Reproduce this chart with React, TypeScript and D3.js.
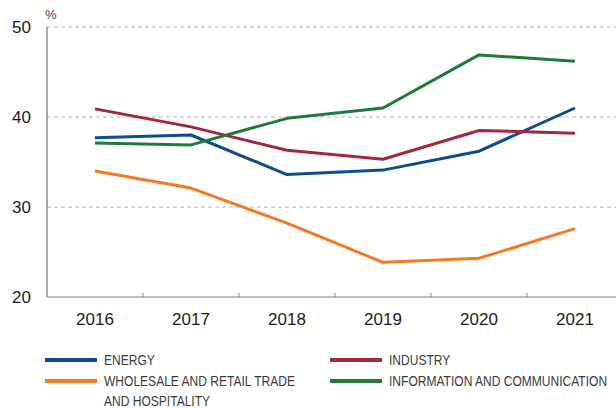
import React from "react";
import * as d3 from "d3";

const years = ["2016", "2017", "2018", "2019", "2020", "2021"];
const energy = [37.7, 38.0, 33.6, 34.1, 36.2, 41.0];
const industry = [40.9, 38.9, 36.3, 35.3, 38.5, 38.2];
const wholesale = [34.0, 32.1, 28.2, 23.85, 24.3, 27.6];
const infoComm = [37.1, 36.9, 39.85, 41.0, 46.9, 46.2];
const yTicks = [20, 30, 40, 50];

const seriesNames = [
  "ENERGY",
  "INDUSTRY",
  "WHOLESALE AND RETAIL TRADE|AND HOSPITALITY",
  "INFORMATION AND COMMUNICATION",
];
const seriesColors = ["#0f4c8c", "#a0283f", "#f47920", "#1f7a3a"];
const seriesValues = [energy, industry, wholesale, infoComm];

const W = 616;
const H = 408;
const left = 47;
const top = 27;
const bottom = 297;

export default function App() {
  const x = d3.scaleBand<string>().domain(years).range([left, left + 96 * 6]);
  const y = d3.scaleLinear().domain([20, 50]).range([bottom, top]);
  const line = d3
    .line<number>()
    .x((_, i) => (x(years[i]) as number) + x.bandwidth() / 2)
    .y((d) => y(d));

  const legendPos = [
    { lx: 45, ly: 360 },
    { lx: 330, ly: 360 },
    { lx: 45, ly: 381 },
    { lx: 330, ly: 381 },
  ];

  return (
    <svg
      width={W}
      height={H}
      style={{ position: "absolute", left: 0, top: 0, background: "#fff" }}
    >
      {yTicks.map((t) =>
        t > 20 ? (
          <line
            key={"g" + t}
            x1={left}
            x2={W}
            y1={y(t)}
            y2={y(t)}
            stroke="#b4b4b4"
            strokeWidth={1}
            strokeDasharray="4,3"
          />
        ) : null
      )}
      <line x1={left} x2={W} y1={bottom} y2={bottom} stroke="#7a7a7a" strokeWidth={1} />
      <line x1={left} x2={left} y1={top} y2={bottom} stroke="#7a7a7a" strokeWidth={1.3} />
      {years.slice(1).map((yr) => (
        <line
          key={"t" + yr}
          x1={x(yr) as number}
          x2={x(yr) as number}
          y1={bottom}
          y2={bottom - 4}
          stroke="#7a7a7a"
          strokeWidth={1}
        />
      ))}
      {yTicks.map((t) => (
        <text
          key={"yl" + t}
          x={31}
          y={y(t)}
          dy="0.36em"
          textAnchor="end"
          fontFamily="'Liberation Sans', Arial, sans-serif"
          fontSize={17}
          fill="#1a1a1a"
        >
          {t}
        </text>
      ))}
      <text
        x={45}
        y={19}
        fontFamily="'Liberation Sans', Arial, sans-serif"
        fontSize={13}
        fill="#444"
      >
        %
      </text>
      {years.map((yr) => (
        <text
          key={"xl" + yr}
          x={(x(yr) as number) + x.bandwidth() / 2}
          y={325}
          textAnchor="middle"
          fontFamily="'Liberation Sans', Arial, sans-serif"
          fontSize={17}
          fill="#1a1a1a"
        >
          {yr}
        </text>
      ))}
      {seriesValues.map((vals, i) => (
        <path
          key={"s" + i}
          d={line(vals) || ""}
          fill="none"
          stroke={seriesColors[i]}
          strokeWidth={3}
          strokeLinejoin="round"
        />
      ))}
      {seriesNames.map((name, i) => {
        const p = legendPos[i];
        const lines = name.split("|");
        return (
          <g key={"l" + i}>
            <line
              x1={p.lx}
              x2={p.lx + 52}
              y1={p.ly}
              y2={p.ly}
              stroke={seriesColors[i]}
              strokeWidth={4}
            />
            {lines.map((ln, j) => (
              <g key={j} transform={`translate(${p.lx + 59},${p.ly + j * 20}) scale(0.86,1)`}>
                <text
                  x={0}
                  y={0}
                  dy="0.36em"
                  fontFamily="'Liberation Sans', Arial, sans-serif"
                  fontSize={14}
                  fill="#3a3a3a"
                >
                  {ln}
                </text>
              </g>
            ))}
          </g>
        );
      })}
    </svg>
  );
}
